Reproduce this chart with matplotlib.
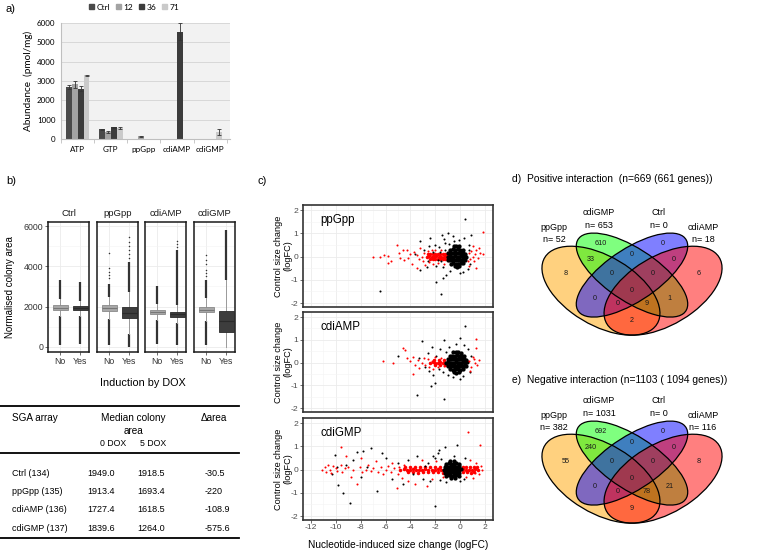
import numpy as np
import matplotlib
matplotlib.use("Agg")
import matplotlib.pyplot as plt
from matplotlib.patches import Ellipse, Patch
from matplotlib.lines import Line2D

W, H = 760, 552
plt.rcParams["font.family"] = ["Liberation Sans", "DejaVu Sans"]
plt.rcParams["axes.unicode_minus"] = False

# ---------------- a) nucleotide abundance ----------------
NUCS = ["ATP", "GTP", "ppGpp", "cdiAMP", "cdiGMP"]
SERIES = ["Ctrl", "12", "36", "71"]
AB_CTRL = [2680, 500, 0, 0, 0]
AB_12 = [2820, 360, 130, 0, 0]
AB_36 = [2610, 610, 0, 5550, 0]
AB_71 = [3290, 570, 0, 0, 380]
ER_CTRL = [90, 40, np.nan, np.nan, np.nan]
ER_12 = [200, 50, 20, np.nan, np.nan]
ER_36 = [120, 30, np.nan, 450, np.nan]
ER_71 = [40, 30, np.nan, np.nan, 150]
BAR_COLORS = ["#4a4a4a", "#a3a3a3", "#3c3c3c", "#cacaca"]

# ---------------- b) colony-area boxplots ----------------
BOX_GROUPS = ["Ctrl", "ppGpp", "cdiAMP", "cdiGMP"]
MED_NO = [1949.0, 1913.4, 1727.4, 1839.6]
MED_YES = [1918.5, 1693.4, 1618.5, 1264.0]
Q1_NO = [1840, 1790, 1630, 1720]
Q3_NO = [2070, 2080, 1830, 2000]
Q1_YES = [1830, 1420, 1500, 720]
Q3_YES = [2010, 1960, 1730, 1760]
WLO_NO = [1520, 1380, 1330, 1300]
WHI_NO = [2400, 2500, 2130, 2420]
WLO_YES = [1560, 620, 1170, 0]
WHI_YES = [2290, 2750, 2070, 3320]
RUN_LO_NO = [100, 100, 130, 100]      # dense run of low outliers
RUN_HI_NO = [3300, 3100, 3000, 3300]  # dense run of high outliers
RUN_LO_YES = [150, 0, 100, 0]
RUN_HI_YES = [3200, 4200, 4800, 5800]
FLIERS_NO = [[], [3400, 3550, 3700, 3900, 4650], [], [3500, 3650, 3800, 4100, 4300, 4550]]
FLIERS_YES = [[], [4400, 4600, 4800, 5000, 5200, 5450], [4950, 5100, 5250], []]

TABLE_ROWS = ["Ctrl (134)", "ppGpp (135)", "cdiAMP (136)", "cdiGMP (137)"]
MEDIAN_0DOX = ["1949.0", "1913.4", "1727.4", "1839.6"]
MEDIAN_5DOX = ["1918.5", "1693.4", "1618.5", "1264.0"]
DELTA_AREA = ["-30.5", "-220", "-108.9", "-575.6"]

# ---------------- c) scatter: logFC ----------------
# ppGpp
PP_BLK_CORE_X = [-1.0, -0.85, -0.7, -0.55, -0.4, -0.25, -0.1, 0.05, 0.2, 0.35, 0.5,
                 -0.95, -0.8, -0.65, -0.5, -0.35, -0.2, -0.05, 0.1, 0.25, 0.4,
                 -0.95, -0.8, -0.65, -0.5, -0.35, -0.2, -0.05, 0.1, 0.25, 0.4,
                 -0.8, -0.6, -0.4, -0.2, 0.0, 0.2,
                 -0.75, -0.55, -0.35, -0.15, 0.05, 0.25,
                 -0.5, -0.3, -0.1, -0.45, -0.25, -0.05]
PP_BLK_CORE_Y = [0.0, 0.02, -0.01, 0.0, 0.03, 0.0, -0.02, 0.01, 0.0, 0.02, 0.0,
                 0.15, 0.16, 0.14, 0.15, 0.17, 0.15, 0.14, 0.16, 0.15, 0.13,
                 -0.15, -0.14, -0.16, -0.15, -0.13, -0.15, -0.16, -0.14, -0.15, -0.13,
                 0.3, 0.31, 0.3, 0.32, 0.3, 0.28,
                 -0.3, -0.29, -0.31, -0.3, -0.28, -0.27,
                 0.45, 0.47, 0.44, -0.42, -0.44, -0.41]
PP_BLK_X = [0.4, -1.45, -3.2, -2.4, -0.05, 0.9, -1.97, -1.55, -1.37, -3.23, -2.7, -1.1,
            -0.04, -6.45, -2.9, -2.0, -1.7, -1.2, -2.6, -3.6, -1.9, -1.3, 0.7, 0.8, -0.6,
            -1.0, -2.2, -0.8, -1.6, 0.3, -2.5, -1.8, -1.4, 0.6, 0.2, -0.5, -1.5, -1.2,
            0.75, -0.9]
PP_BLK_Y = [1.6, 0.93, 0.67, 0.78, 0.71, 0.93, -1.08, -1.62, -0.93, -0.58, -0.43, -0.8,
            -0.72, -1.46, 0.3, 0.5, 0.4, 0.6, -0.2, 0.1, -0.4, 0.75, 0.5, -0.3, 0.9,
            1.0, 0.2, -0.6, 0.2, 0.8, 0.45, -0.15, -0.45, -0.55, -0.65, 0.65, -0.2, 0.3,
            0.3, 0.55]
PP_RED_CORE_X = [-2.7, -2.5, -2.3, -2.1, -1.9, -1.7, -1.5, -1.3, -1.1, -0.9,
                 -2.6, -2.4, -2.2, -2.0, -1.8, -1.6, -1.4, -1.2, -1.0,
                 -2.4, -2.2, -2.0, -1.8, -1.6, -1.4, -1.2]
PP_RED_CORE_Y = [0.0, 0.01, -0.01, 0.0, 0.02, 0.0, -0.01, 0.0, 0.01, 0.0,
                 0.11, 0.12, 0.1, 0.12, 0.11, 0.12, 0.1, 0.11, 0.12,
                 -0.11, -0.12, -0.1, -0.12, -0.11, -0.12, -0.1]
PP_RED_X = [-7.0, -6.45, -6.1, -5.8, -5.8, -5.6, -5.1, -4.9, -4.8, -4.6, -4.5, -4.3,
            -4.2, -4.0, -3.9, -3.7, -3.5, -3.5, -3.3, -3.2, -3.1, -3.0, -2.9, -2.8,
            -2.6, -2.5, -2.3, -2.2, -2.0, -1.8, -1.5, -1.3, 0.6, 0.7, 0.8, 0.9, 1.0,
            1.1, 1.2, 1.3, 1.3, 1.45, 1.6, 1.84, 1.84, 1.0, 0.75, 1.5]
PP_RED_Y = [-0.03, 0.0, 0.08, 0.04, -0.29, -0.2, 0.5, 0.15, -0.07, 0.3, -0.15, 0.28,
            -0.05, 0.1, -0.3, 0.2, -0.5, 0.05, -0.12, 0.35, 0.0, -0.2, 0.15, -0.35,
            0.25, -0.25, 0.3, -0.3, 0.28, -0.28, 0.3, -0.3, -0.2, 0.15, -0.1, 0.25, 0.0,
            -0.2, 0.1, 0.28, -0.5, -0.05, 0.15, 0.11, 1.06, 0.45, -0.4, 0.35]

# cdiAMP
CA_BLK_CORE_X = [-1.1, -0.95, -0.8, -0.65, -0.5, -0.35, -0.2, -0.05, 0.1, 0.25, 0.4, 0.55,
                 -1.0, -0.85, -0.7, -0.55, -0.4, -0.25, -0.1, 0.05, 0.2, 0.35, 0.5,
                 -1.0, -0.85, -0.7, -0.55, -0.4, -0.25, -0.1, 0.05, 0.2, 0.35, 0.5,
                 -0.85, -0.65, -0.45, -0.25, -0.05, 0.15, 0.35,
                 -0.8, -0.6, -0.4, -0.2, 0.0, 0.2,
                 -0.55, -0.35, -0.15, 0.05, -0.5, -0.3, -0.1]
CA_BLK_CORE_Y = [0.0, 0.01, 0.0, -0.02, 0.0, 0.02, 0.0, -0.01, 0.0, 0.02, 0.0, 0.01,
                 0.15, 0.16, 0.14, 0.15, 0.16, 0.15, 0.14, 0.15, 0.16, 0.14, 0.13,
                 -0.15, -0.14, -0.16, -0.15, -0.14, -0.15, -0.16, -0.14, -0.15, -0.13, -0.14,
                 0.3, 0.31, 0.3, 0.32, 0.3, 0.29, 0.28,
                 -0.3, -0.31, -0.29, -0.3, -0.31, -0.28,
                 0.45, 0.47, 0.46, 0.44, -0.43, -0.44, -0.42]
CA_BLK_X = [0.39, -0.04, -1.3, -3.05, -3.45, -2.35, -2.0, -1.3, -4.98, -0.04, -2.2,
            -1.6, -0.9, -2.6, -1.9, -1.4, 0.6, 0.8, -0.6, -2.8, -1.1, 0.3, -1.7, -2.3,
            0.9, -0.3, 0.2, -1.0, -3.3, -2.5]
CA_BLK_Y = [1.6, 1.07, 0.97, 0.93, -1.43, -1.04, -0.9, -1.6, 0.31, -0.72, -0.56,
            0.6, 0.7, 0.4, 0.3, -0.4, 0.6, -0.4, -0.65, -0.2, 0.45, 0.75, -0.3, 0.7,
            0.3, 0.8, -0.6, -0.55, 0.2, -0.35]
CA_RED_CORE_X = [-2.4, -2.2, -2.0, -1.8, -1.6, -1.4, -1.2, -1.0, -2.1, -1.7, -1.3, -2.0, -1.6, -1.2]
CA_RED_CORE_Y = [0.0, 0.01, -0.01, 0.0, 0.01, 0.0, -0.01, 0.0, 0.1, 0.11, 0.1, -0.1, -0.11, -0.1]
CA_RED_X = [-6.18, -5.38, -4.57, -4.4, -4.3, -3.77, -3.6, -4.0, -3.8, -3.4, -3.3, -3.1,
            -2.9, -2.8, -2.6, -2.5, -2.3, -2.2, -2.0, -1.8, -1.5, -1.3, 1.3, 1.25, 1.2,
            1.4, 1.1, 0.9, 1.0, 0.7, 1.5, 0.8]
CA_RED_Y = [0.05, 0.0, 0.63, 0.55, 0.2, -0.48, -0.12, 0.05, 0.25, 0.1, -0.25, 0.0,
            0.2, -0.1, 0.15, -0.2, 0.05, -0.3, 0.25, -0.2, 0.2, -0.15, 1.05, 0.65, 0.0,
            -0.1, 0.15, -0.2, 0.25, 0.05, 0.1, -0.35]

# cdiGMP
CG_BLK_CORE_X = [-1.3, -1.15, -1.0, -0.85, -0.7, -0.55, -0.4, -0.25, -0.1, 0.05,
                 -1.25, -1.1, -0.95, -0.8, -0.65, -0.5, -0.35, -0.2, -0.05,
                 -1.25, -1.1, -0.95, -0.8, -0.65, -0.5, -0.35, -0.2, -0.05,
                 -1.1, -0.9, -0.7, -0.5, -0.3, -0.1,
                 -1.1, -0.9, -0.7, -0.5, -0.3, -0.1,
                 -0.8, -0.5, -0.75, -0.45]
CG_BLK_CORE_Y = [0.0, 0.01, 0.0, -0.01, 0.0, 0.02, 0.0, -0.01, 0.0, 0.01,
                 0.13, 0.14, 0.12, 0.13, 0.14, 0.13, 0.12, 0.13, 0.14,
                 -0.13, -0.12, -0.14, -0.13, -0.12, -0.13, -0.14, -0.12, -0.13,
                 0.26, 0.27, 0.25, 0.26, 0.27, 0.25,
                 -0.26, -0.25, -0.27, -0.26, -0.25, -0.27,
                 0.37, 0.36, -0.36, -0.37]
CG_BLK_X = [-10.07, -9.8, -9.45, -8.84, -7.8, -7.2, -6.71, -2.02, -1.2, -0.28, -2.15,
            -6.3, -9.2, -8.6, -8.0, -7.5, -6.0, -5.5, -5.0, -4.6, -4.2, -3.8, -3.5, -3.0,
            -2.6, -2.4, -1.8, -1.6, -1.5, -2.0, -1.7, 0.3, 0.4, -1.1, 0.0, -0.5, -2.8,
            -9.9, -10.3, -8.3]
CG_BLK_Y = [0.64, -0.65, -1.0, -1.44, 0.81, 0.92, -0.93, -1.58, 0.97, 1.07, 0.57,
            0.7, 0.2, 0.4, -0.3, 0.1, 0.5, -0.4, 0.3, -0.6, 0.4, -0.2, 0.6, -0.4,
            0.3, -0.5, 0.7, -0.45, 0.45, 0.5, 0.85, -0.4, 0.5, -0.55, -0.5, 0.6, 0.15,
            0.1, -0.2, 0.75]
CG_RED_CORE_X = [-4.8, -4.55, -4.3, -4.05, -3.8, -3.55, -3.3, -3.05, -2.8, -2.55, -2.3,
                 -2.05, -1.8, -1.55, -1.3, -1.05, -0.8, -0.55, -0.3, -0.05, 0.2, 0.45,
                 0.7, 0.95, 1.2, 1.45,
                 -4.4, -4.0, -3.6, -3.2, -2.8, -2.4, -2.0, -1.6, 0.2, 0.5, 0.8, 1.1, 1.4,
                 -4.2, -3.8, -3.4, -3.0, -2.6, -2.2, -1.8, -1.4, 0.25, 0.55, 0.85, 1.15]
CG_RED_CORE_Y = [0.0, 0.01, -0.01, 0.0, 0.02, 0.0, -0.01, 0.0, 0.01, 0.0, -0.02,
                 0.0, 0.01, 0.0, -0.01, 0.0, 0.02, 0.0, -0.01, 0.0, 0.01, 0.0,
                 -0.01, 0.0, 0.02, 0.0,
                 0.12, 0.11, 0.13, 0.12, 0.1, 0.12, 0.11, 0.13, 0.12, 0.11, 0.13, 0.12, 0.1,
                 -0.12, -0.11, -0.13, -0.12, -0.1, -0.12, -0.11, -0.13, -0.12, -0.11, -0.13, -0.12]
CG_RED_X = [-11.1, -10.9, -10.8, -10.6, -10.5, -10.4, -10.2, -10.0, -9.9, -9.6, -9.6,
            -9.5, -9.3, -9.0, -8.8, -8.6, -8.3, -8.1, -7.9, -7.6, -7.4, -7.2, -7.0, -6.8,
            -6.6, -6.4, -6.2, -6.0, -5.8, -5.6, -5.5, -5.3, -5.1, -5.0, -4.9, -4.7, -4.5,
            -2.7, -3.6, -2.3, -3.1, -4.2, 0.6, 1.6, 1.8, 1.7, 1.5, 1.3, 1.0, 0.8, 1.2,
            0.5, -1.9, -1.4, -9.2, -8.0]
CG_RED_Y = [0.0, 0.1, -0.1, 0.2, 0.0, -0.15, 0.15, 0.05, -0.05, 0.97, 0.2,
            -0.1, 0.05, 0.1, -0.3, 0.0, -0.6, 0.1, -0.1, 0.0, 0.2, -0.05, 0.05, 0.35,
            -0.1, 0.1, -0.2, 0.0, 0.15, -0.1, 0.3, 0.05, -0.79, -0.2, 0.1, -0.35, 0.2,
            -0.7, -0.6, -0.4, 0.4, -0.5, 1.6, 1.07, 0.0, 0.15, -0.2, 0.3, -0.35, 0.4,
            -0.15, -0.3, 0.35, -0.3, 0.6, 0.5]

# ---------------- d/e) Venn diagrams ----------------
VENN_SETS = ["ppGpp", "cdiGMP", "Ctrl", "cdiAMP"]
POS_N = [52, 653, 0, 18]
NEG_N = [382, 1031, 0, 116]
# regions: A, B, C, D, AB, BC, CD, ABC, BCD, ABCD, AC, BD, ACD, ABD, AD
POS_COUNTS = [8, 610, 0, 6, 33, 0, 0, 0, 0, 0, 0, 1, 0, 9, 2]
NEG_COUNTS = [55, 692, 0, 8, 240, 0, 0, 0, 0, 0, 0, 21, 0, 78, 9]
REGION_UV = [(0.18, 0.583), (0.35, 0.775), (0.65, 0.775), (0.82, 0.583),
             (0.30, 0.672), (0.50, 0.704), (0.70, 0.672), (0.40, 0.583),
             (0.60, 0.583), (0.50, 0.474), (0.32, 0.422), (0.68, 0.422),
             (0.43, 0.39), (0.57, 0.39), (0.50, 0.281)]
VENN_FILLS = ["orange", "#00ff00", "#0000ff", "#ff0000"]


def px_axes(fig, x0, y0, x1, y1):
    return fig.add_axes([x0 / W, 1 - y1 / H, (x1 - x0) / W, (y1 - y0) / H])


def ftext(fig, x, y, s, **kw):
    kw.setdefault("va", "center")
    fig.text(x / W, 1 - y / H, s, **kw)


def hrule(fig, x0, x1, y, lw=1.3):
    fig.add_artist(Line2D([x0 / W, x1 / W], [1 - y / H, 1 - y / H],
                          transform=fig.transFigure, color="black", lw=lw))


fig = plt.figure(figsize=(W / 100, H / 100), dpi=100)

# ===== panel a =====
ftext(fig, 6, 9, "a)", fontsize=8)
ax = px_axes(fig, 61, 23, 230, 139)
ax.set_facecolor("#f2f2f2")
xs = np.arange(len(NUCS))
offs = [-0.27, -0.09, 0.09, 0.27]
for vals, errs, col, off, lab in zip([AB_CTRL, AB_12, AB_36, AB_71],
                                     [ER_CTRL, ER_12, ER_36, ER_71],
                                     BAR_COLORS, offs, SERIES):
    ax.bar(xs + off, vals, width=0.18, color=col, label=lab, zorder=2)
    ax.errorbar(xs + off, vals, yerr=errs, fmt="none", ecolor="#333333",
                elinewidth=0.6, capsize=1.5, capthick=0.6, zorder=3)
ax.set_xlim(-0.5, 4.6)
ax.set_ylim(0, 6000)
ax.set_yticks(range(0, 6001, 1000))
ax.yaxis.grid(True, color="#d4d4d4", lw=0.6, zorder=0)
ax.set_axisbelow(True)
ax.set_xticks(xs)
ax.set_xticklabels(NUCS, family="Lato", fontsize=5.8)
ax.set_xticks(np.arange(-0.5, 4.6, 1.0), minor=True)
ax.tick_params(axis="x", which="major", length=0, pad=5)
ax.tick_params(axis="x", which="minor", length=3, color="#bfbfbf")
ax.tick_params(axis="y", length=0, labelsize=5.8, pad=4)
for t in ax.get_yticklabels():
    t.set_family("Lato")
for s in ["top", "right"]:
    ax.spines[s].set_visible(False)
for s in ["left", "bottom"]:
    ax.spines[s].set_color("#bfbfbf")
ax.set_ylabel("Abundance  (pmol/mg)", family="Lato", fontsize=7.2, labelpad=3)
handles = [Patch(color=c, label=l) for c, l in zip(BAR_COLORS, SERIES)]
fig.legend(handles=handles, loc="center", bbox_to_anchor=(134 / W, 1 - 7 / H), ncol=4,
           frameon=False, handlelength=0.6, handleheight=0.6,
           handletextpad=0.3, columnspacing=0.7, prop={"family": "Lato", "size": 6})

# ===== panel b =====
ftext(fig, 6, 181, "b)", fontsize=8)
facet_x = [(48, 89), (97, 138), (145, 186), (194, 235)]
for i, (x0, x1) in enumerate(facet_x):
    ax = px_axes(fig, x0, 222, x1, 352)
    # dense outlier runs
    ax.vlines(1, RUN_LO_NO[i], WLO_NO[i], color="#333333", lw=1.6, zorder=2)
    ax.vlines(1, WHI_NO[i], RUN_HI_NO[i], color="#333333", lw=1.6, zorder=2)
    ax.vlines(2, RUN_LO_YES[i], WLO_YES[i], color="#333333", lw=1.6, zorder=2)
    ax.vlines(2, WHI_YES[i], RUN_HI_YES[i], color="#333333", lw=1.6, zorder=2)
    stats = [dict(med=MED_NO[i], q1=Q1_NO[i], q3=Q3_NO[i], whislo=WLO_NO[i],
                  whishi=WHI_NO[i], fliers=FLIERS_NO[i]),
             dict(med=MED_YES[i], q1=Q1_YES[i], q3=Q3_YES[i], whislo=WLO_YES[i],
                  whishi=WHI_YES[i], fliers=FLIERS_YES[i])]
    bp = ax.bxp(stats, positions=[1, 2], widths=0.75, patch_artist=True, showcaps=False,
                manage_ticks=False,
                whiskerprops=dict(color="#9a9a9a", lw=0.7),
                flierprops=dict(marker="o", ms=1.1, mfc="#333333", mec="none"),
                medianprops=dict(color="#777777", lw=0.8))
    bp["boxes"][0].set(facecolor="#a8a8a8", edgecolor="#8a8a8a", lw=0.6, zorder=3)
    bp["boxes"][1].set(facecolor="#3d3d3d", edgecolor="#2a2a2a", lw=0.6, zorder=3)
    bp["medians"][1].set(color="#2a2a2a")
    for m in bp["medians"]:
        m.set_zorder(4)
    ax.set_xlim(0.4, 2.45)
    ax.set_ylim(-250, 6200)
    ax.set_yticks([0, 2000, 4000, 6000])
    ax.set_yticks([1000, 3000, 5000], minor=True)
    ax.set_xticks([1, 2])
    ax.set_xticklabels(["No", "Yes"], fontsize=6.3, color="#333333")
    ax.grid(True, which="major", color="#ebebeb", lw=0.6)
    ax.grid(True, which="minor", axis="y", color="#f3f3f3", lw=0.4)
    ax.set_axisbelow(True)
    ax.tick_params(axis="both", which="major", length=2, width=0.5, color="#333333", pad=1.5)
    ax.tick_params(axis="y", which="minor", length=0)
    if i == 0:
        ax.tick_params(axis="y", labelsize=6.3, labelcolor="#333333")
    else:
        ax.tick_params(axis="y", left=False, labelleft=False)
    for s in ax.spines.values():
        s.set_color("#1a1a1a")
        s.set_linewidth(1.1)
    ftext(fig, (x0 + x1) / 2, 213, BOX_GROUPS[i], ha="center", fontsize=6.8, color="#1a1a1a")
ftext(fig, 10, 287, "Normalised colony area", rotation=90, ha="center", fontsize=7)
ftext(fig, 143, 383, "Induction by DOX", ha="center", fontsize=7.8)

# table
hrule(fig, 0, 239, 406)
hrule(fig, 0, 239, 453)
hrule(fig, 0, 239, 538)
ftext(fig, 12, 418, "SGA array", fontsize=7.2)
ftext(fig, 133, 418, "Median colony", ha="center", fontsize=7.2)
ftext(fig, 133, 431, "area", ha="center", fontsize=7.2)
ftext(fig, 113, 443, "0 DOX", ha="center", fontsize=6.3)
ftext(fig, 153, 443, "5 DOX", ha="center", fontsize=6.3)
ftext(fig, 214, 418, "\u0394area", ha="center", fontsize=7.2)
row_y = [473, 491.5, 510, 528.5]
for ry, name, m0, m5, d in zip(row_y, TABLE_ROWS, MEDIAN_0DOX, MEDIAN_5DOX, DELTA_AREA):
    ftext(fig, 12, ry, name, fontsize=6.5)
    ftext(fig, 101, ry, m0, ha="center", fontsize=6.5)
    ftext(fig, 151, ry, m5, ha="center", fontsize=6.5)
    ftext(fig, 205, ry, d, fontsize=6.5)

# ===== panel c =====
ftext(fig, 258, 181, "c)", fontsize=8)
panels = [
    ("ppGpp", 205, 307, PP_RED_CORE_X, PP_RED_CORE_Y, PP_BLK_CORE_X, PP_BLK_CORE_Y,
     PP_BLK_X, PP_BLK_Y, PP_RED_X, PP_RED_Y),
    ("cdiAMP", 312, 412, CA_RED_CORE_X, CA_RED_CORE_Y, CA_BLK_CORE_X, CA_BLK_CORE_Y,
     CA_BLK_X, CA_BLK_Y, CA_RED_X, CA_RED_Y),
    ("cdiGMP", 418, 520, CG_RED_CORE_X, CG_RED_CORE_Y, CG_BLK_CORE_X, CG_BLK_CORE_Y,
     CG_BLK_X, CG_BLK_Y, CG_RED_X, CG_RED_Y),
]
for k, (name, y0, y1, rcx, rcy, bcx, bcy, bx, by, rx, ry_) in enumerate(panels):
    ax = px_axes(fig, 303, y0, 493, y1)
    ax.set_xlim(-12.65, 2.65)
    ax.set_ylim(-2.17, 2.22)
    ax.set_xticks(range(-12, 3, 2))
    ax.set_xticks(range(-11, 3, 2), minor=True)
    ax.set_yticks([-2, -1, 0, 1, 2])
    ax.set_yticks([-1.5, -0.5, 0.5, 1.5], minor=True)
    ax.grid(True, which="major", color="#ebebeb", lw=0.6)
    ax.grid(True, which="minor", color="#f4f4f4", lw=0.4)
    ax.set_axisbelow(True)
    ax.tick_params(which="major", length=2, width=0.5, color="#333333", pad=1.2,
                   labelsize=6.1, labelcolor="#4d4d4d")
    ax.tick_params(which="minor", length=0)
    if k < 2:
        ax.tick_params(axis="x", labelbottom=False, bottom=False)
    for s in ax.spines.values():
        s.set_color("#333333")
        s.set_linewidth(1.2)
    ax.scatter(rcx, rcy, s=6.5, color="red", linewidths=0, zorder=2)
    ax.scatter(bcx, bcy, s=9.5, color="black", linewidths=0, zorder=3)
    ax.scatter(bx, by, s=2.2, color="black", linewidths=0, zorder=3)
    ax.scatter(rx, ry_, s=2.2, color="red", linewidths=0, zorder=4)
    ax.text(0.09, 0.82, name, transform=ax.transAxes, fontsize=8.3)
    ftext(fig, 283, (y0 + y1) / 2, "Control size change\n(logFC)", rotation=90,
          ha="center", fontsize=6.6, linespacing=1.05)
ftext(fig, 398, 545, "Nucleotide-induced size change (logFC)", ha="center", fontsize=7.3)


# ===== panels d, e =====
def venn(top, title, title_y, ns, counts):
    ftext(fig, 512, title_y, title, fontsize=7.4)
    ax = px_axes(fig, 528.5, top, 735.5, top + 156)
    ax.set_xlim(0, 1)
    ax.set_ylim(0, 1)
    ax.axis("off")
    geo = [((0.35, 0.47), 0.70, 0.40, -45), ((0.50, 0.57), 0.70, 0.30, -45),
           ((0.50, 0.57), 0.70, 0.30, 45), ((0.65, 0.47), 0.70, 0.40, 45)]
    for (c, w, h, ang), col in zip(geo, VENN_FILLS):
        ax.add_patch(Ellipse(c, w, h, angle=ang, facecolor=col, alpha=0.5, lw=0))
    for (c, w, h, ang) in geo:
        ax.add_patch(Ellipse(c, w, h, angle=ang, facecolor="none", edgecolor="black", lw=0.9))
    for (u, v), n in zip(REGION_UV, counts):
        ax.text(u, v, str(n), ha="center", va="center", fontsize=5.2, color="#1a1a1a")
    lab_uv = [(0.123, 0.878, 0.80), (0.341, 0.974, 0.89), (0.63, 0.974, 0.89), (0.843, 0.878, 0.80)]
    for (u, v1, v2), name, n in zip(lab_uv, VENN_SETS, ns):
        ax.text(u, v1, name, ha="center", va="center", fontsize=6.5, clip_on=False)
        ax.text(u, v2, f"n= {n}", ha="center", va="center", fontsize=6.5, clip_on=False)


venn(208, "d)  Positive interaction  (n=669 (661 genes))", 179, POS_N, POS_COUNTS)
venn(396, "e)  Negative interaction (n=1103 ( 1094 genes))", 380, NEG_N, NEG_COUNTS)

fig.savefig("out.png", dpi=100)
